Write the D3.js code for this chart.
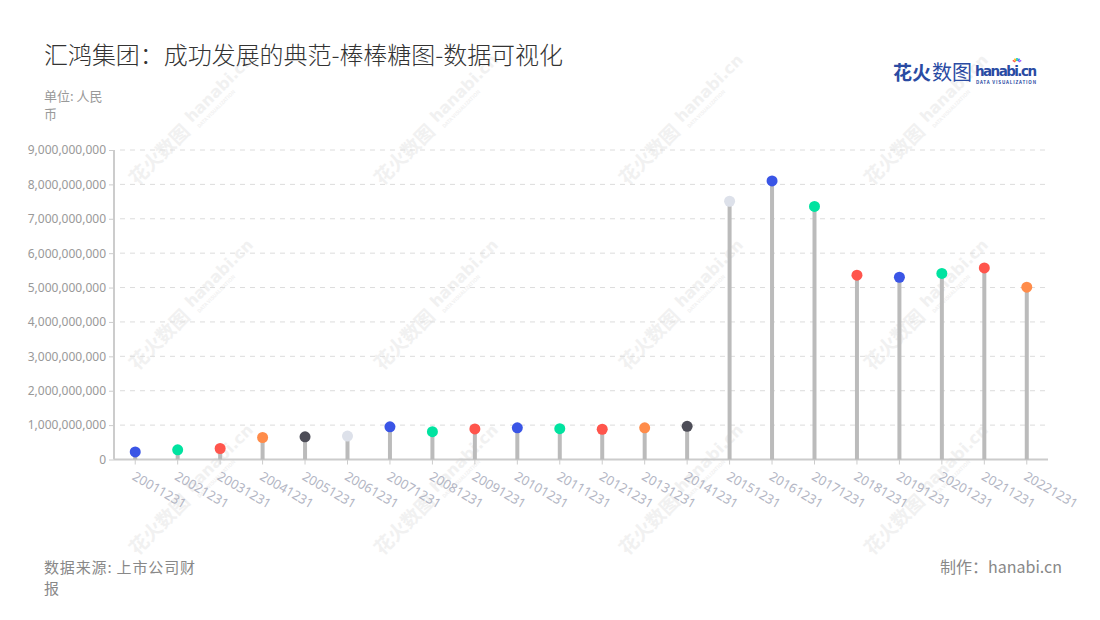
<!DOCTYPE html>
<html><head><meta charset="utf-8">
<script src="https://cdn.jsdelivr.net/npm/d3@7/dist/d3.min.js"></script>
<style>body{margin:0;background:#fff;} svg{display:block;font-family:"Noto Sans CJK SC","Noto Sans",sans-serif;}</style>
</head><body><svg id="c" width="1100" height="620"></svg>
<script>
const categories = ["20011231","20021231","20031231","20041231","20051231","20061231","20071231","20081231","20091231","20101231","20111231","20121231","20131231","20141231","20151231","20161231","20171231","20181231","20191231","20201231","20211231","20221231"];
const values = [0.22e9,0.28e9,0.32e9,0.64e9,0.66e9,0.68e9,0.95e9,0.81e9,0.89e9,0.92e9,0.895e9,0.88e9,0.92e9,0.965e9,7.51e9,8.10e9,7.36e9,5.36e9,5.30e9,5.41e9,5.57e9,5.01e9];
const yTicks = [0,1e9,2e9,3e9,4e9,5e9,6e9,7e9,8e9,9e9];
const palette = ["#3a55e6","#00e3a0","#ff554c","#ff8c4a","#4d4d57","#dde1ea"];
const colorIndex = [0,1,2,3,4,5,0,1,2,0,1,2,3,4,5,0,1,2,0,1,2,3];

const svg = d3.select("#c");
const L=114,R=1048,T=150,B=459.5;

// watermarks
const wm = svg.append("g");
for(let i=0;i<4;i++)for(let j=0;j<3;j++){
  const g = wm.append("g").attr("transform",`translate(${186+245*i},${129+185*j}) rotate(-45)`).attr("fill","#f1f1f1");
  g.append("text").attr("x",-75).attr("y",6).attr("font-size",19).attr("font-weight",700).text("花火数图");
  g.append("text").attr("x",8).attr("y",0).attr("font-size",16).attr("font-weight",700).attr("font-family","Verdana,DejaVu Sans,sans-serif").text("hanabi.cn");
  g.append("text").attr("x",10).attr("y",9).attr("font-size",5).attr("font-weight",700).text("DATA VISUALIZATION");
}

const x = d3.scaleBand().domain(categories).range([L,R]);
const y = d3.scaleLinear().domain([0,9e9]).range([B,T]);

// grid
svg.append("g").selectAll("line").data(yTicks.slice(1)).join("line")
  .attr("x1",L+6).attr("x2",R).attr("y1",d=>y(d)).attr("y2",d=>y(d))
  .attr("stroke","#dcdcdc").attr("stroke-dasharray","5,5");

// y axis
const ya = svg.append("g").attr("transform",`translate(${L},0)`)
  .call(d3.axisLeft(y).tickValues(yTicks).tickSize(5).tickPadding(3).tickFormat(d3.format(",")));
ya.select(".domain").attr("stroke","#ccc").attr("stroke-width",2).attr("d",`M0,${T}V${B}`);
ya.selectAll(".tick line").attr("stroke","#ccc");
ya.selectAll(".tick text").attr("fill","#999").attr("font-size",12).attr("font-family","Noto Sans, sans-serif");

// x axis
const xa = svg.append("g").attr("transform",`translate(0,${B})`)
  .call(d3.axisBottom(x).tickSize(5).tickFormat(""));
xa.select(".domain").attr("stroke","#ccc").attr("stroke-width",2).attr("d",`M${L},0H${R}`);
xa.selectAll(".tick line").attr("stroke","#ccc");
svg.append("g").selectAll("text").data(categories).join("text")
  .attr("transform",d=>`translate(${x(d)+x.bandwidth()/2+1},${B+11}) rotate(30)`)
  .attr("dy","0.75em").attr("fill","#b3b6c4").attr("font-size",13).attr("font-family","Noto Sans, sans-serif")
  .text(d=>d);

// stems
svg.append("g").selectAll("line").data(values).join("line")
  .attr("x1",(d,i)=>x(categories[i])+x.bandwidth()/2).attr("x2",(d,i)=>x(categories[i])+x.bandwidth()/2)
  .attr("y1",y(0)).attr("y2",d=>y(d)).attr("stroke","#bbbbbb").attr("stroke-width",4);
svg.append("g").selectAll("circle").data(values).join("circle")
  .attr("cx",(d,i)=>x(categories[i])+x.bandwidth()/2).attr("cy",d=>y(d)).attr("r",5.5)
  .attr("fill",(d,i)=>palette[colorIndex[i]]);

// texts
svg.append("text").attr("x",44).attr("y",64).attr("font-size",24).attr("font-weight",300).attr("fill","#333").attr("textLength",519).text("汇鸿集团：成功发展的典范-棒棒糖图-数据可视化");
svg.append("text").attr("x",44).attr("y",101).attr("font-size",13).attr("fill","#999").text("单位: 人民");
svg.append("text").attr("x",44).attr("y",119).attr("font-size",13).attr("fill","#999").text("币");
svg.append("text").attr("x",44).attr("y",573).attr("font-size",15).attr("fill","#888").attr("textLength",151).text("数据来源: 上市公司财");
svg.append("text").attr("x",44).attr("y",594).attr("font-size",15).attr("fill","#888").text("报");
svg.append("text").attr("x",1062).attr("y",573).attr("text-anchor","end").attr("font-size",16).attr("fill","#888").text("制作：hanabi.cn");

// logo
const lg = svg.append("g");
lg.append("text").attr("x",893).attr("y",80).attr("font-size",19).attr("font-weight",700).attr("fill","#2a4ba3").text("花火");
lg.append("text").attr("x",932).attr("y",80).attr("font-size",20).attr("fill","#2a4ba3").text("数图");
lg.append("text").attr("x",975).attr("y",76).attr("font-size",13.5).attr("font-weight",700).attr("fill","#2a4ba3").attr("font-family","Verdana,DejaVu Sans,sans-serif").attr("textLength",62).text("hanabi.cn");
lg.append("text").attr("x",976).attr("y",83.5).attr("font-size",4.5).attr("font-weight",700).attr("fill","#2a4ba3").attr("textLength",60).text("DATA VISUALIZATION");
const sp=["#ff5a4f","#ffb300","#00c8a0","#3a7bff","#a05aff"];
sp.forEach((c,i)=>{const a=-Math.PI/2+(i-2)*0.5;lg.append("line").attr("x1",1017+Math.cos(a)*2).attr("y1",63+Math.sin(a)*2).attr("x2",1017+Math.cos(a)*5).attr("y2",63+Math.sin(a)*5).attr("stroke",c).attr("stroke-width",1.5);});
</script></body></html>
